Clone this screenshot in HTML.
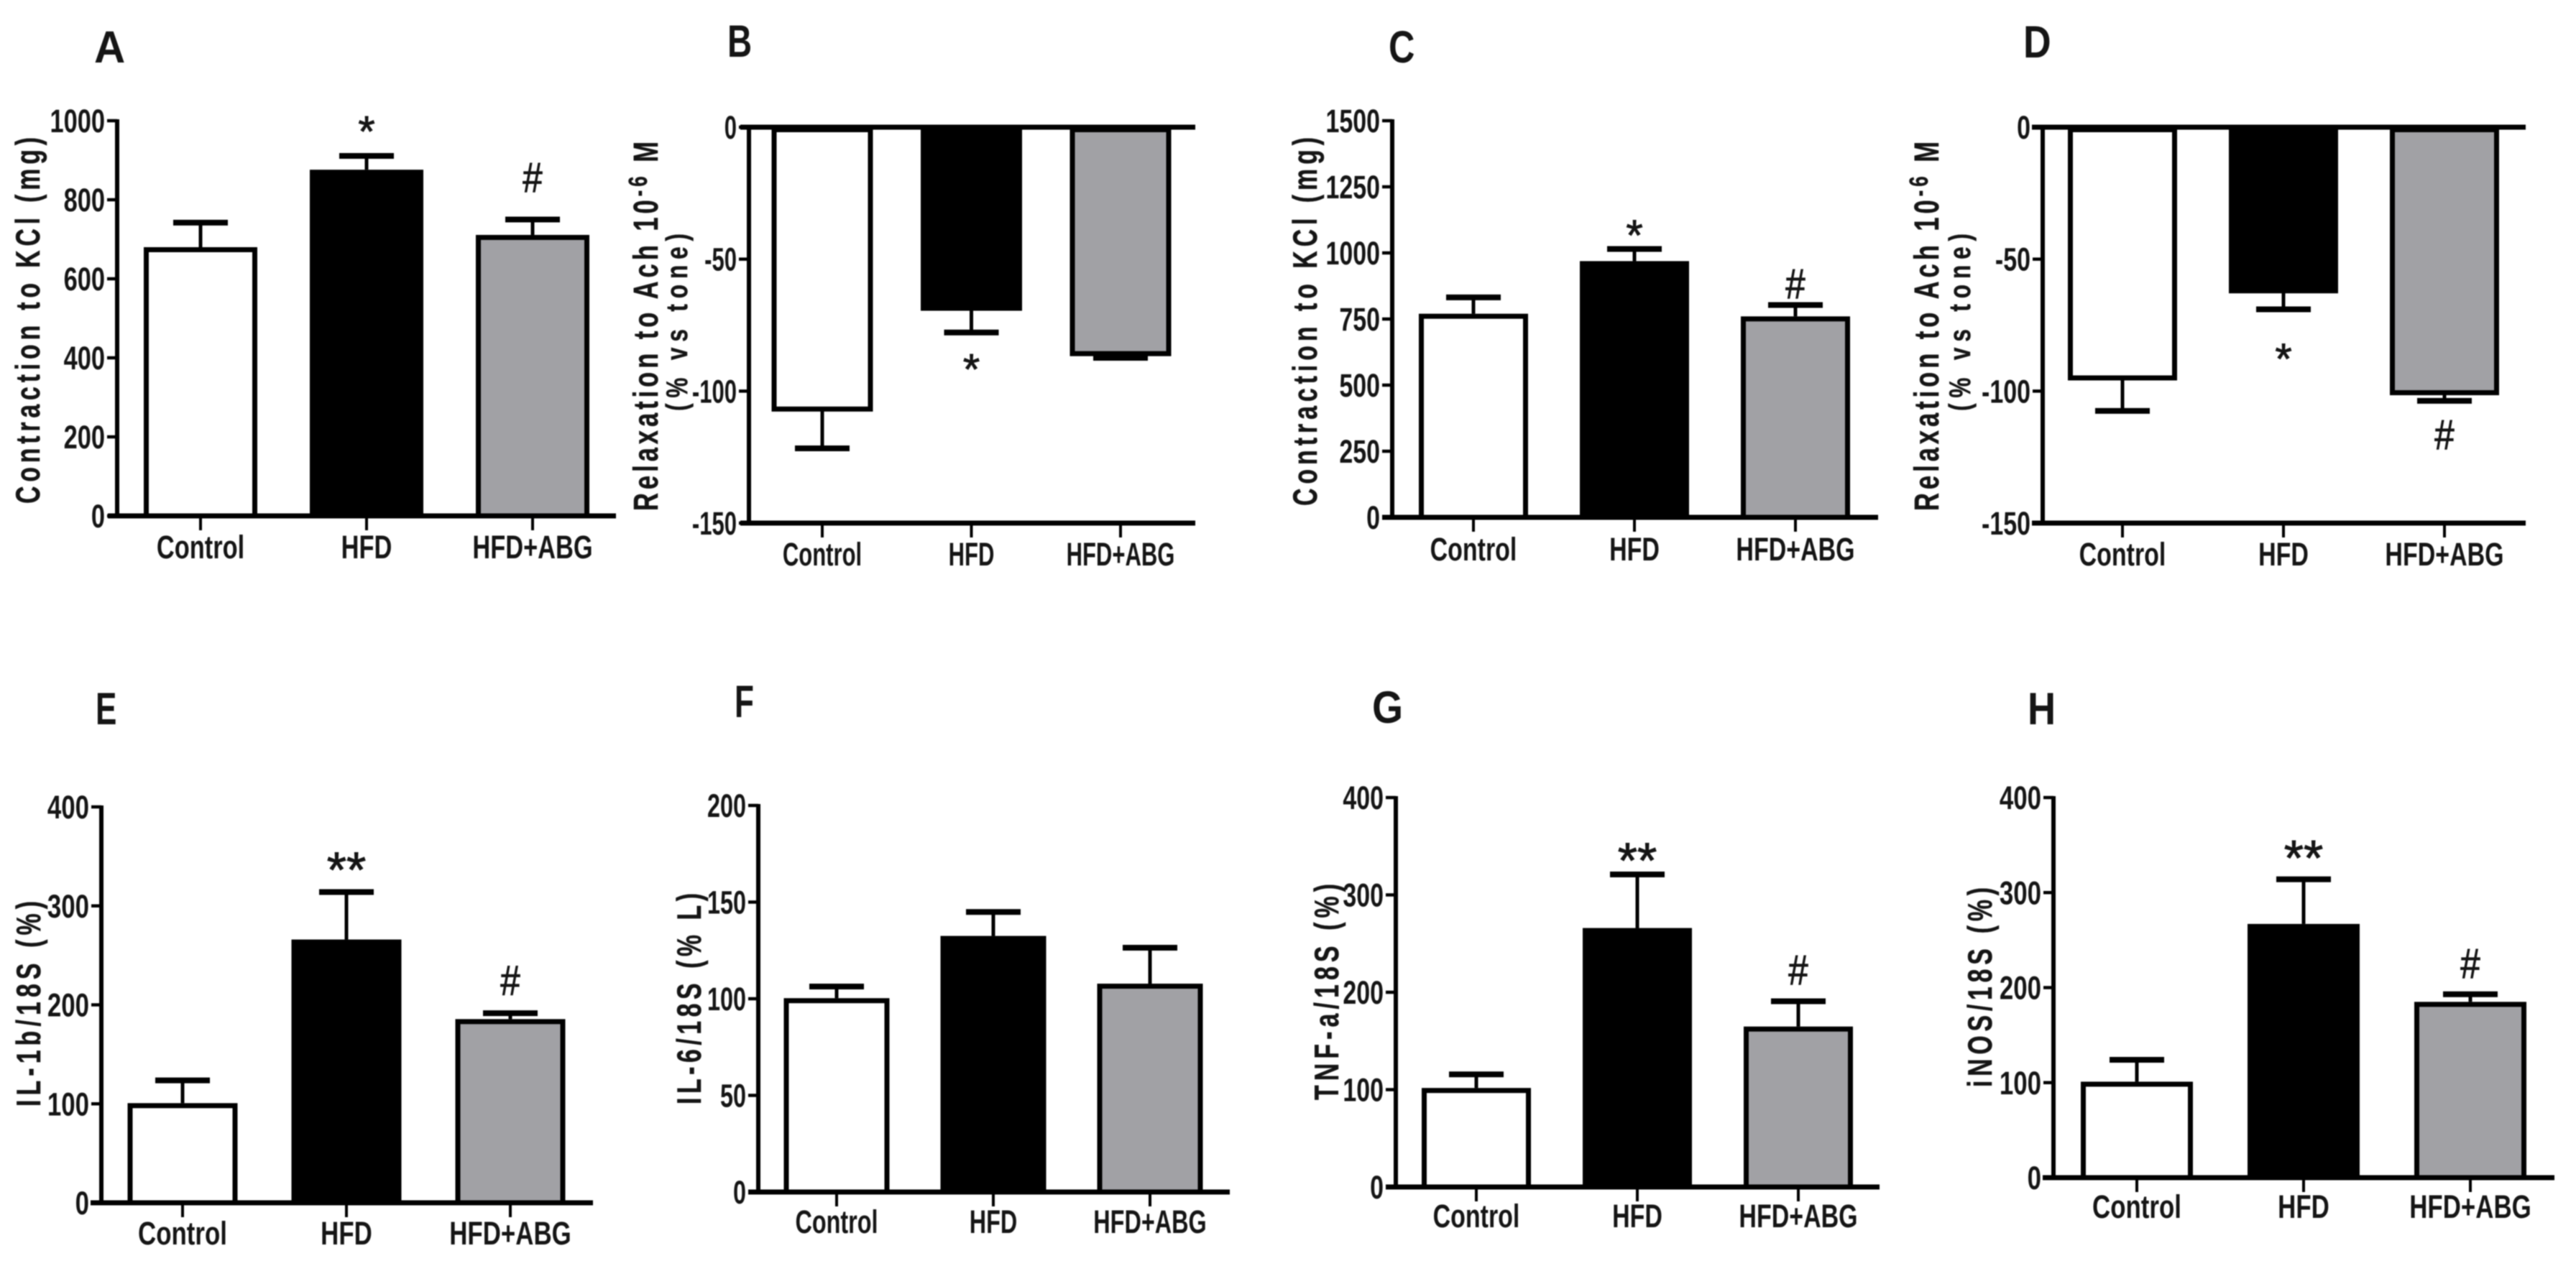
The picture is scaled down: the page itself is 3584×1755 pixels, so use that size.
<!DOCTYPE html>
<html lang="en">
<head>
<meta charset="utf-8">
<title>Vascular reactivity and inflammatory markers bar charts</title>
<style>
html,body{margin:0;padding:0;background:#fff;width:3584px;height:1755px;overflow:hidden}
svg{display:block;filter:blur(0.8px)}
text{font-family:"Liberation Sans",sans-serif;fill:#151515}
</style>
</head>
<body>
<svg id="figure" xmlns="http://www.w3.org/2000/svg" width="3584" height="1755" viewBox="0 0 3584 1755"></svg>
<script>
const categories = ['Control', 'HFD', 'HFD+ABG'];

const panelAMeans = [680, 876, 711];
const panelAErrors = [62, 35, 39];
const panelATicks = [0, 200, 400, 600, 800, 1000];

const panelBMeans = [-106.8, -68.6, -85.8];
const panelBErrors = [14.9, 9.2, 1.6];
const panelBTicks = [0, -50, -100, -150];

const panelCMeans = [770, 969, 760];
const panelCErrors = [62, 46, 43];
const panelCTicks = [0, 250, 500, 750, 1000, 1250, 1500];

const panelDMeans = [-95, -62, -100.6];
const panelDErrors = [12.5, 7, 3.1];
const panelDTicks = [0, -50, -100, -150];

const panelEMeans = [100.7, 266, 185.6];
const panelEErrors = [23, 48, 6];
const panelETicks = [0, 100, 200, 300, 400];

const panelFMeans = [100.3, 132.5, 107.8];
const panelFErrors = [6, 12.4, 18.6];
const panelFTicks = [0, 50, 100, 150, 200];

const panelGMeans = [101.7, 266, 164.8];
const panelGErrors = [14, 55, 26];
const panelGTicks = [0, 100, 200, 300, 400];

const panelHMeans = [101, 267, 185];
const panelHErrors = [23, 47, 8];
const panelHTicks = [0, 100, 200, 300, 400];

const barFills = ['#ffffff', '#000000', '#a1a1a5'];
const SVG_NS = 'http://www.w3.org/2000/svg';
const figure = document.getElementById('figure');

function mk(tag, attrs, parent) {
  const node = document.createElementNS(SVG_NS, tag);
  for (const key in attrs) node.setAttribute(key, attrs[key]);
  parent.appendChild(node);
  return node;
}

function line(parent, x1, y1, x2, y2, width) {
  return mk('line', {x1: x1, y1: y1, x2: x2, y2: y2, stroke: '#000', 'stroke-width': width}, parent);
}

function drawTitleLine(parent, spec) {
  const length = spec.start - spec.end;
  const t = mk('text', {
    transform: 'translate(' + spec.base + ',' + spec.start + ') rotate(-90) scale(' + spec.squeeze + ',1)',
    'font-size': spec.size,
    'font-weight': 'bold',
    stroke: '#151515',
    'stroke-width': 0.5,
    textLength: length / spec.squeeze,
    lengthAdjust: 'spacing'
  }, parent);
  
  
  t.appendChild(document.createTextNode(spec.text));
  if (spec.sup) {
    const s = mk('tspan', {dy: -15, 'font-size': spec.size * 0.75}, t);
    s.textContent = spec.sup;
    const tail = mk('tspan', {dy: 15, 'font-size': spec.size}, t);
    tail.textContent = spec.tail;
  }
}

function drawAnnotation(parent, label, x, centerY) {
  const isHash = label === '#';
  const size = isHash ? 58 : (label.length > 1 ? 70 : 60);
  const baseline = centerY + (isHash ? 0.35 : 0.575) * size;
  const t = mk('text', {
    transform: 'translate(' + x + ',' + baseline + ') scale(' + (isHash ? 0.85 : 1) + ',1)',
    'font-size': size,
    'text-anchor': 'middle',
    stroke: '#151515',
    'stroke-width': 1
  }, parent);
  
  
  t.textContent = label;
}

function drawPanel(cfg) {
  const group = mk('g', {}, figure);
  
  

  const maxTick = Math.max.apply(null, cfg.ticks);
  const minTick = Math.min.apply(null, cfg.ticks);
  const yScale = function (v) {
    return cfg.top + (maxTick - v) / (maxTick - minTick) * (cfg.bottom - cfg.top);
  };
  const xScale = function (i) {
    return cfg.firstCenter + i * cfg.step;
  };
  const y0 = yScale(0);
  const axisBottom = yScale(minTick);
  const sw = 7;

  const letter = mk('text', {
    transform: 'translate(' + cfg.letterX + ',' + cfg.letterY + ') scale(' + cfg.letterScale + ',1)',
    'font-size': 63,
    'font-weight': 'bold'
  }, group);
  
  
  letter.textContent = cfg.letter;

  cfg.means.forEach(function (mean, i) {
    const cx = xScale(i);
    const yMean = yScale(mean);
    const dir = mean >= 0 ? 1 : -1;
    const yCap = yScale(mean + dir * cfg.errors[i]);

    const stem = line(group, cx, yMean, cx, yCap, 5);
    
    

    const cap = line(group, cx - 38, yCap, cx + 38, yCap, 8);
    
    

    const bar = mk('rect', {
      x: cx - cfg.barWidth / 2 + sw / 2,
      y: Math.min(y0, yMean) + sw / 2,
      width: cfg.barWidth - sw,
      height: Math.abs(y0 - yMean) - sw / 2,
      fill: barFills[i],
      stroke: '#000',
      'stroke-width': sw
    }, group);
    
    

    const tick = line(group, cx, axisBottom, cx, axisBottom + 20, 4);
    
    

    const label = mk('text', {
      transform: 'translate(' + cx + ',' + (axisBottom + cfg.labelDrop) + ') scale(' + cfg.glyphScale + ',1)',
      'font-size': 45,
      'font-weight': 'bold',
      'text-anchor': 'middle'
    }, group);
    
    
    label.textContent = categories[i];
  });

  const yAxis = line(group, cfg.axisX, cfg.top - 2, cfg.axisX, axisBottom + 2, 6);
  
  

  const xAxis = line(group, cfg.lineStart, y0, cfg.lineEnd, y0, 7);
  
  

  if (minTick < 0) {
    const floor = line(group, cfg.lineStart, axisBottom, cfg.lineEnd, axisBottom, 7);
    
    
  }

  cfg.ticks.forEach(function (value) {
    const y = yScale(value);
    const tick = line(group, cfg.axisX - 14, y, cfg.axisX, y, 4.5);
    
    

    const label = mk('text', {
      transform: 'translate(' + (cfg.axisX - 17) + ',' + (y + 16) + ') scale(' + cfg.glyphScale + ',1)',
      'font-size': 45,
      'font-weight': 'bold',
      'text-anchor': 'end'
    }, group);
    
    
    label.textContent = String(value);
  });

  cfg.titles.forEach(function (spec) {
    drawTitleLine(group, spec);
  });

  cfg.marks.forEach(function (mark) {
    const mean = cfg.means[mark.bar];
    const dir = mean >= 0 ? 1 : -1;
    const yCap = yScale(mean + dir * cfg.errors[mark.bar]);
    drawAnnotation(group, mark.label, xScale(mark.bar), yCap + mark.offset);
  });
}

drawPanel({
  letter: 'A', letterX: 131, letterY: 87, letterScale: 0.95,
  means: panelAMeans, errors: panelAErrors, ticks: panelATicks,
  axisX: 163, top: 168, bottom: 718, lineStart: 150, lineEnd: 857,
  firstCenter: 279, step: 231, barWidth: 158, glyphScale: 0.765, labelDrop: 59,
  titles: [{text: 'Contraction to KCl (mg)', base: 55, start: 701, end: 191, size: 47, squeeze: 0.72}],
  marks: [{bar: 1, label: '*', offset: -48}, {bar: 2, label: '#', offset: -59}]
});

drawPanel({
  letter: 'B', letterX: 1012, letterY: 79, letterScale: 0.75,
  means: panelBMeans, errors: panelBErrors, ticks: panelBTicks,
  axisX: 1042, top: 177, bottom: 728, lineStart: 1030, lineEnd: 1663,
  firstCenter: 1144, step: 207.5, barWidth: 141, glyphScale: 0.69, labelDrop: 59,
  titles: [
    {text: 'Relaxation to Ach 10', sup: '-6', tail: ' M', base: 915, start: 711, end: 197, size: 48, squeeze: 0.72},
    {text: '(% vs tone)', base: 956, start: 572, end: 325, size: 42, squeeze: 0.75}
  ],
  marks: [{bar: 1, label: '*', offset: 37}]
});

drawPanel({
  letter: 'C', letterX: 1932, letterY: 87, letterScale: 0.8,
  means: panelCMeans, errors: panelCErrors, ticks: panelCTicks,
  axisX: 1937, top: 168, bottom: 720, lineStart: 1923, lineEnd: 2613,
  firstCenter: 2050, step: 224, barWidth: 152, glyphScale: 0.755, labelDrop: 60,
  titles: [{text: 'Contraction to KCl (mg)', base: 1832, start: 704, end: 191, size: 47, squeeze: 0.72}],
  marks: [{bar: 1, label: '*', offset: -33}, {bar: 2, label: '#', offset: -30}]
});

drawPanel({
  letter: 'D', letterX: 2815, letterY: 80, letterScale: 0.85,
  means: panelDMeans, errors: panelDErrors, ticks: panelDTicks,
  axisX: 2842, top: 177, bottom: 728, lineStart: 2827, lineEnd: 3514,
  firstCenter: 2953, step: 224, barWidth: 152, glyphScale: 0.755, labelDrop: 59,
  titles: [
    {text: 'Relaxation to Ach 10', sup: '-6', tail: ' M', base: 2697, start: 711, end: 197, size: 48, squeeze: 0.72},
    {text: '(% vs tone)', base: 2741, start: 572, end: 325, size: 42, squeeze: 0.75}
  ],
  marks: [{bar: 1, label: '*', offset: 55}, {bar: 2, label: '#', offset: 47}]
});

drawPanel({
  letter: 'E', letterX: 133, letterY: 1008, letterScale: 0.7,
  means: panelEMeans, errors: panelEErrors, ticks: panelETicks,
  axisX: 141, top: 1123, bottom: 1674, lineStart: 126, lineEnd: 825,
  firstCenter: 254, step: 228, barWidth: 153, glyphScale: 0.775, labelDrop: 58,
  titles: [{text: 'IL-1b/18S (%)', base: 56, start: 1540, end: 1254, size: 47, squeeze: 0.72}],
  marks: [{bar: 1, label: '**', offset: -47}, {bar: 2, label: '#', offset: -46}]
});

drawPanel({
  letter: 'F', letterX: 1022, letterY: 998, letterScale: 0.7,
  means: panelFMeans, errors: panelFErrors, ticks: panelFTicks,
  axisX: 1055, top: 1121, bottom: 1659, lineStart: 1041, lineEnd: 1711,
  firstCenter: 1164, step: 218, barWidth: 147, glyphScale: 0.72, labelDrop: 57,
  titles: [{text: 'IL-6/18S (% L)', base: 975, start: 1537, end: 1243, size: 47, squeeze: 0.72}],
  marks: []
});

drawPanel({
  letter: 'G', letterX: 1909, letterY: 1006, letterScale: 0.88,
  means: panelGMeans, errors: panelGErrors, ticks: panelGTicks,
  axisX: 1942, top: 1110, bottom: 1652, lineStart: 1928, lineEnd: 2615,
  firstCenter: 2054, step: 224, barWidth: 152, glyphScale: 0.755, labelDrop: 56,
  titles: [{text: 'TNF-a/18S (%)', base: 1862, start: 1531, end: 1230, size: 47, squeeze: 0.72}],
  marks: [{bar: 1, label: '**', offset: -36}, {bar: 2, label: '#', offset: -44}]
});

drawPanel({
  letter: 'H', letterX: 2821, letterY: 1008, letterScale: 0.86,
  means: panelHMeans, errors: panelHErrors, ticks: panelHTicks,
  axisX: 2857, top: 1110, bottom: 1639, lineStart: 2842, lineEnd: 3554,
  firstCenter: 2973, step: 232, barWidth: 156, glyphScale: 0.775, labelDrop: 56,
  titles: [{text: 'iNOS/18S (%)', base: 2771, start: 1513, end: 1235, size: 47, squeeze: 0.72}],
  marks: [{bar: 1, label: '**', offset: -46}, {bar: 2, label: '#', offset: -43}]
});
</script>
</body>
</html>
